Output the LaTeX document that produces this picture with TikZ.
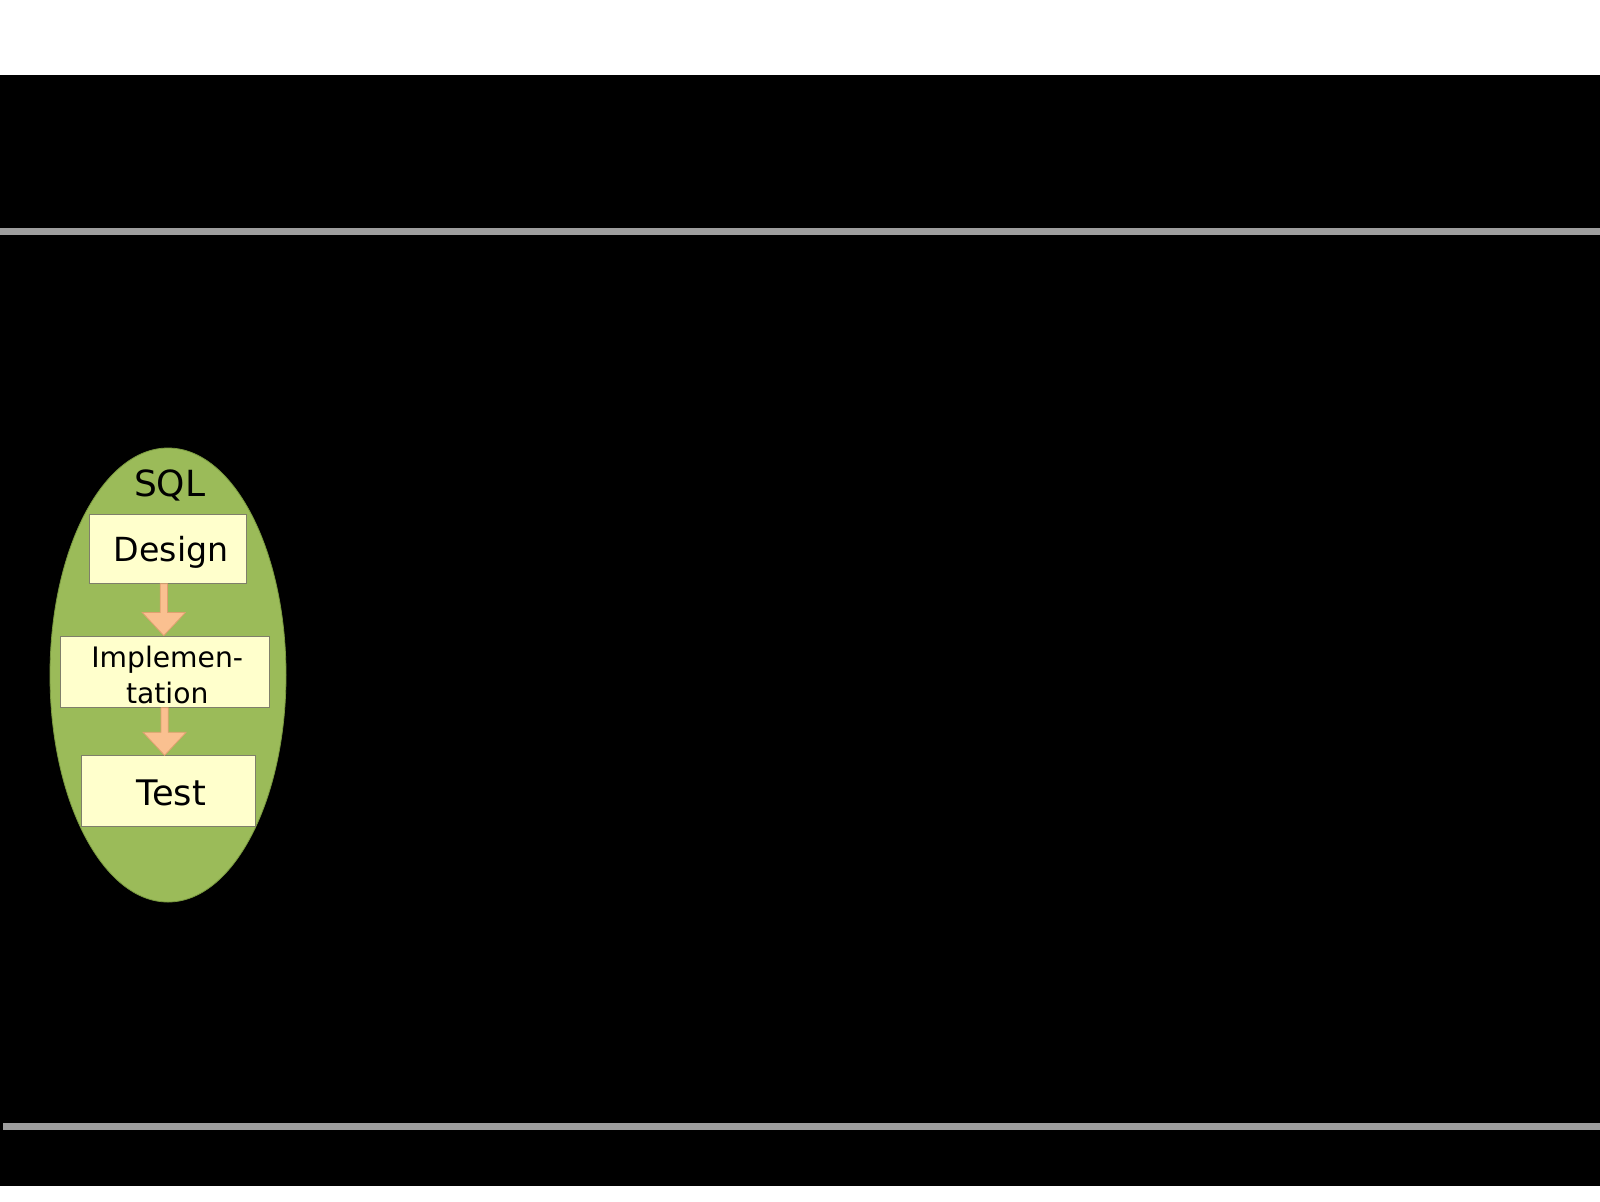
\documentclass[tikz,border=0pt]{standalone}
\usepackage{fontspec}
\setmainfont{DejaVu Sans}
\usetikzlibrary{calc,shapes.geometric}
\definecolor{ovalgreen}{HTML}{9BBB59}
\definecolor{ovaledge}{HTML}{7A9A40}
\definecolor{boxfill}{HTML}{FFFFCC}
\definecolor{boxedge}{HTML}{7F7F6A}
\definecolor{peach}{HTML}{FAC090}
\definecolor{peachedge}{HTML}{E0A070}
\definecolor{rulegray}{HTML}{9E9E9E}
\tikzset{
  stagebox/.style={draw=boxedge, line width=0.4pt, fill=boxfill, rectangle, inner sep=0pt, align=center},
  blockarrow/.style={fill=peach, draw=peachedge, line width=0.4pt},
  rulebar/.style={fill=rulegray}
}
\newcommand\sqlflowarrow[3]{%
  \path[blockarrow] let \p1=(#1), \p2=(#2), \p3=(#3) in
    (\x3-1.8pt,\y1) -- (\x3+1.8pt,\y1) -- (\x3+1.8pt,\y2+11.5pt) -- (\x3+10.75pt,\y2+11.5pt)
    -- (\x3,\y2) -- (\x3-10.75pt,\y2+11.5pt) -- (\x3-1.8pt,\y2+11.5pt) -- cycle;}
\begin{document}
\begin{tikzpicture}[x=0.5pt,y=-0.5pt]
\useasboundingbox (0,0) rectangle (1600,1201);
\fill[white] (0,0) rectangle (1600,1201);
\fill[black] (0,75) rectangle (1600,1186);
\fill[rulebar] (0,228) rectangle (1600,235);
\fill[rulebar] (3,1122.5) rectangle (1600,1129.5);
\node[ellipse, fill=ovalgreen, draw=ovaledge, line width=0.4pt, minimum width=236pt*0.5, minimum height=454pt*0.5, inner sep=0pt] (oval) at (168,675) {};
\node[font=\fontsize{18pt}{21pt}\selectfont, anchor=base] (sql) at (169.7,496) {SQL};
\node[stagebox, minimum width=157.7pt*0.5, minimum height=69pt*0.5, text height=12.9pt, text depth=0pt, font=\fontsize{16.6pt}{19pt}\selectfont] (design) at (167.8,548.8) {\hspace*{3.5pt}Design};
\node[stagebox, minimum width=209.3pt*0.5, minimum height=71.3pt*0.5, font=\fontsize{14.1pt}{18pt}\selectfont] (impl) at (164.7,671.6) {\rule{0pt}{13.7pt}\hspace*{2.5pt}Implemen-\\\hspace*{2.5pt}tation};
\node[stagebox, minimum width=174pt*0.5, minimum height=71pt*0.5, text height=13.8pt, text depth=0pt, font=\fontsize{17.6pt}{20pt}\selectfont] (test) at (168.7,791.2) {\hspace*{2.5pt}Test};
\coordinate (ax1) at (163.8,0);
\coordinate (ax2) at (164.6,0);
\sqlflowarrow{design.south}{impl.north}{ax1}
\sqlflowarrow{impl.south}{test.north}{ax2}
\end{tikzpicture}
\end{document}
